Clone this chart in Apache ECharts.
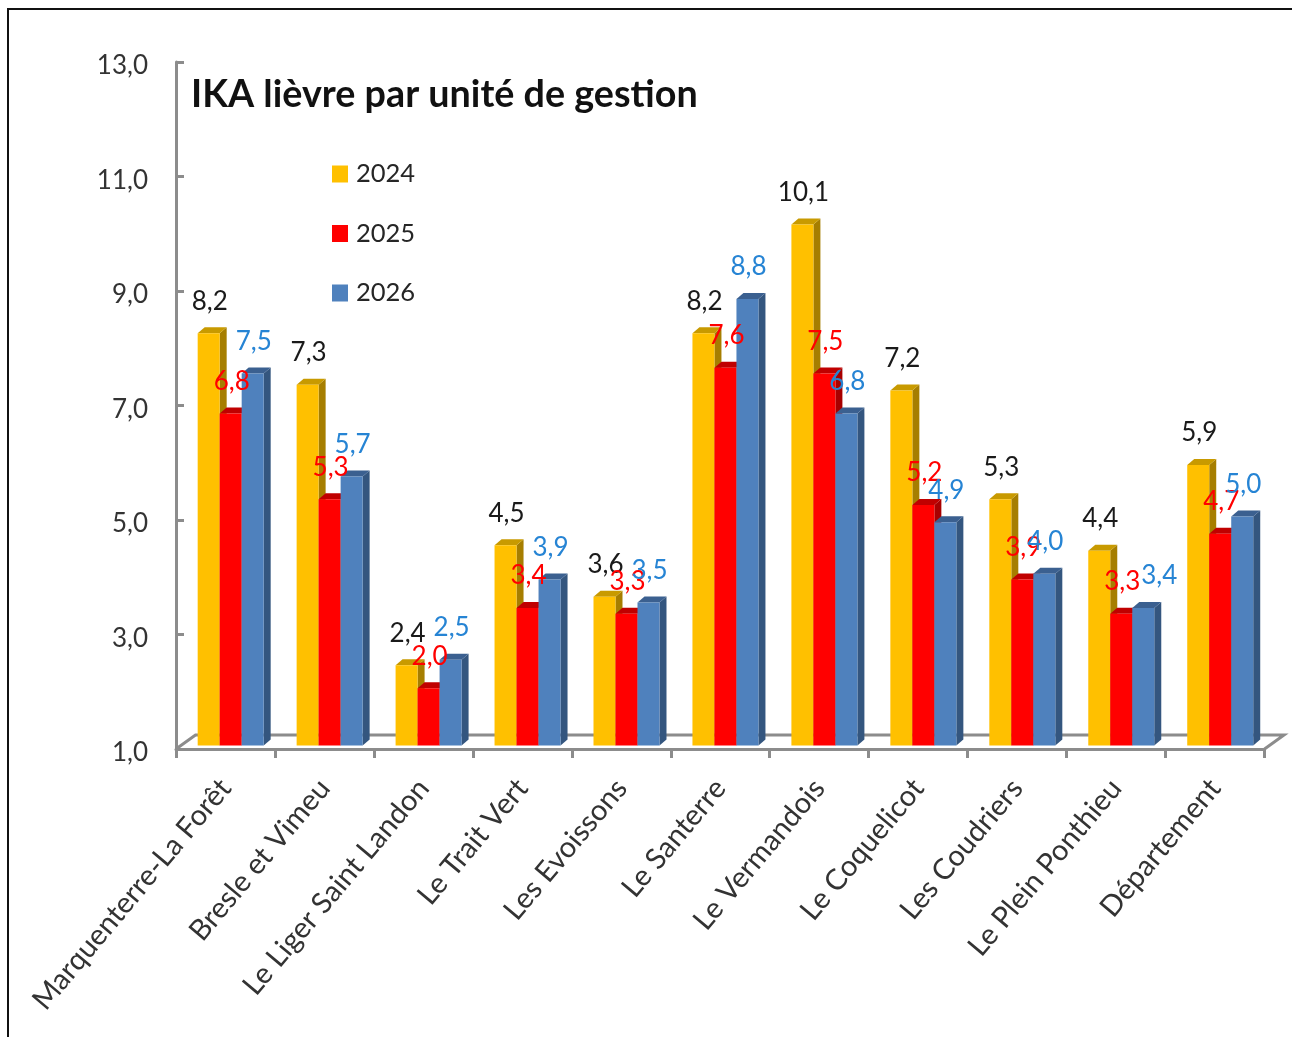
<!DOCTYPE html>
<html><head><meta charset="utf-8">
<style>html,body{margin:0;padding:0;background:#fff}#c{width:1292px;height:1037px}</style>
<script src="https://cdn.jsdelivr.net/npm/echarts@6/dist/echarts.min.js"></script>
</head><body><div id="c"></div>
<script>
const categories = ['Marquenterre-La Forêt','Bresle et Vimeu','Le Liger Saint Landon','Le Trait Vert','Les Evoissons','Le Santerre','Le Vermandois','Le Coquelicot','Les Coudriers','Le Plein Ponthieu','Département'];
const values2024 = [8.2,7.3,2.4,4.5,3.6,8.2,10.1,7.2,5.3,4.4,5.9];
const values2025 = [6.8,5.3,2.0,3.4,3.3,7.6,7.5,5.2,3.9,3.3,4.7];
const values2026 = [7.5,5.7,2.5,3.9,3.5,8.8,6.8,4.9,4.0,3.4,5.0];
const years = ['2024','2025','2026'];
const yTicks = {min:1,max:13,interval:2};

const FONT='Lato';
const GRID={left:176,top:62,width:1088.5,height:687};
const BW=22, DX=7, DY=6, LIFT=3.5, START=-27.8;
const looks=[
 {front:'#FFC000',top:'#C89A00',side:'#A67E00',text:'#1a1a1a',values:values2024},
 {front:'#FF0000',top:'#C00000',side:'#A80000',text:'#FF0000',values:values2025},
 {front:'#4F81BD',top:'#3B6090',side:'#34567F',text:'#2684D4',values:values2026}
];
const nudge={'9|2':15};
const comma=v=>v.toFixed(1).replace('.',',');

function barSeries(look,k){
 return {name:years[k],type:'custom',z:2+k,clip:false,silent:true,
  itemStyle:{color:look.front},
  encode:{x:0,y:1},
  data:look.values.map((v,i)=>[i,v]),
  renderItem(params,api){
   const i=api.value(0),v=api.value(1);
   const c=api.coord([i,v]),b=api.coord([i,yTicks.min]);
   const x0=c[0]+START+k*BW,x1=x0+BW,yt=c[1]-LIFT,yb=b[1]-LIFT;
   return {type:'group',children:[
    {type:'polygon',shape:{points:[[x1,yb],[x1+DX,yb-DY],[x1+DX,yt-DY],[x1,yt]]},style:{fill:look.side}},
    {type:'polygon',shape:{points:[[x0,yt],[x0+DX,yt-DY],[x1+DX,yt-DY],[x1,yt]]},style:{fill:look.top}},
    {type:'rect',shape:{x:x0,y:yt,width:BW,height:yb-yt},style:{fill:look.front}}
   ]};
  }};
}
function labelSeries(look,k){
 return {name:'labels'+years[k],type:'custom',z:10,clip:false,silent:true,
  encode:{x:0,y:1},
  data:look.values.map((v,i)=>[i,v]),
  renderItem(params,api){
   const i=api.value(0),v=api.value(1);
   const c=api.coord([i,v]);
   const n=nudge[i+'|'+k]||0;
   return {type:'text',style:{text:comma(v),x:c[0]+START+k*BW+BW/2+1+n,y:c[1]-LIFT-32,
     fill:look.text,font:'26px '+FONT,textAlign:'center',textVerticalAlign:'middle'}};
  }};
}
const chart=echarts.init(document.getElementById('c'),null,{renderer:'canvas'});
const L=GRID.left,R=L+GRID.width,F=GRID.top+GRID.height,BK=735,SH=19.5;
chart.setOption({
 animation:false,backgroundColor:'#fff',
 title:{text:'IKA lièvre par unité de gestion',left:186,top:71,textStyle:{fontFamily:FONT,fontWeight:'bold',fontSize:37.7,color:'#111'}},
 legend:{data:years,orient:'vertical',left:327,top:156,itemWidth:16,itemHeight:17,itemGap:33.5,icon:'rect',
  textStyle:{fontFamily:FONT,fontSize:25.5,color:'#262626',padding:[0,0,0,3]}},
 grid:GRID,
 xAxis:{type:'category',data:categories,
  axisLine:{lineStyle:{color:'#8C8C8C',width:3}},
  axisTick:{show:true,length:9,lineStyle:{color:'#8C8C8C',width:3}},
  axisLabel:{interval:0,rotate:50,fontFamily:FONT,fontSize:29,color:'#333',margin:34},
  splitLine:{show:false}},
 yAxis:{type:'value',min:yTicks.min,max:yTicks.max,interval:yTicks.interval,
  axisLine:{show:true,lineStyle:{color:'#8C8C8C',width:3}},
  axisTick:{show:true,inside:true,length:8,lineStyle:{color:'#8C8C8C',width:3}},
  axisLabel:{fontFamily:FONT,fontSize:26,color:'#333',margin:28,verticalAlign:'top',lineHeight:8,formatter:comma},
  splitLine:{show:false}},
 graphic:[
  {type:'rect',shape:{x:8,y:9,width:1400,height:1200},style:{fill:'none',stroke:'#111',lineWidth:2},z:100,silent:true},
  {type:'polyline',shape:{points:[[L,F],[L+SH,BK],[R+SH,BK],[R,F]]},style:{fill:'none',stroke:'#8C8C8C',lineWidth:3},z:1,silent:true}
 ],
 series:[...looks.map(barSeries),...looks.map(labelSeries)]
});
</script></body></html>
